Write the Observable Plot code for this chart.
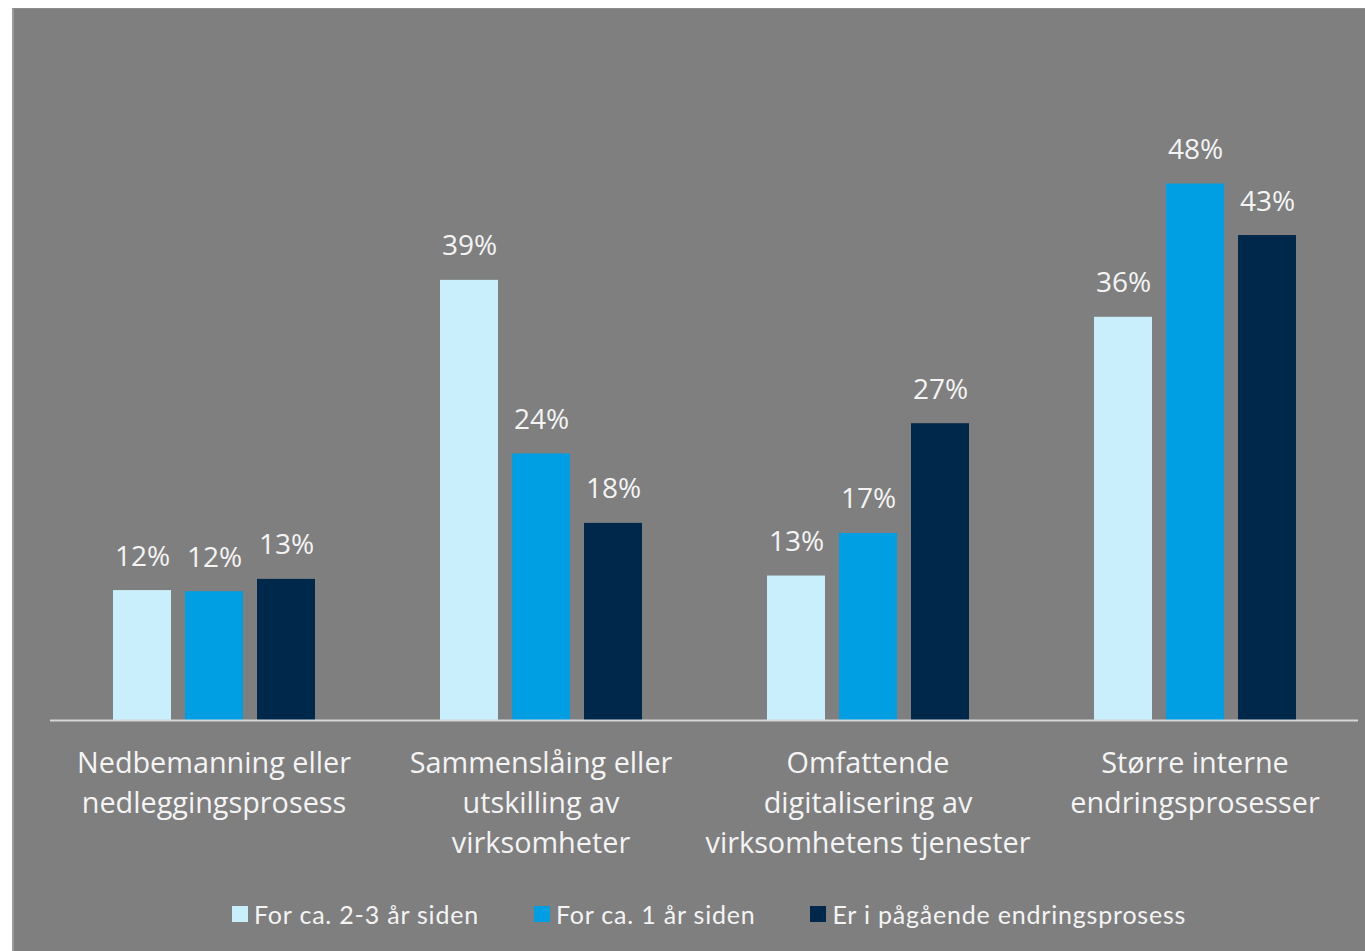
<!DOCTYPE html>
<html>
<head>
<meta charset="utf-8">
<script src="https://cdn.jsdelivr.net/npm/d3@7"></script>
<script src="https://cdn.jsdelivr.net/npm/@observablehq/plot@0.6"></script>
<style>
  html, body { margin: 0; padding: 0; background: #ffffff; }
  #frame {
    position: absolute; left: 12px; top: 8px; width: 1353px; height: 943px;
    background: #7f7f7f; border-left: 2px solid #9a9a9a; border-top: 1px solid #8c8c8c;
    box-sizing: border-box; overflow: hidden;
  }
  #chart svg { display: block; }
  #legend {
    display: flex; align-items: center; padding-left: 218px; margin-top: 20px;
    font-family: Lato, "Open Sans", sans-serif; font-size: 25px; letter-spacing: 0.8px; color: #f4f4f4;
  }
  .item { display: flex; align-items: center; margin-right: 55px; }
  .sw { width: 16px; height: 16px; margin-right: 6px; }
</style>
</head>
<body>
<div id="frame">
  <div id="chart"></div>
  <div id="legend"></div>
</div>
<script>
const categories = [
  "Nedbemanning eller\nnedleggingsprosess",
  "Sammenslåing eller\nutskilling av\nvirksomheter",
  "Omfattende\ndigitalisering av\nvirksomhetens tjenester",
  "Større interne\nendringsprosesser"
];
const series = ["For ca. 2-3 år siden", "For ca. 1 år siden", "Er i pågående endringsprosess"];
const colors = ["#c9effc", "#009fe3", "#00284a"];
const values23 = [11.6, 39.3, 12.9, 36.0];
const values1 = [11.5, 23.8, 16.7, 47.9];
const valuesNow = [12.6, 17.6, 26.5, 43.3];

const seriesValues = [values23, values1, valuesNow];
const data = [];
categories.forEach((c, i) => {
  series.forEach((s, j) => data.push({category: c, series: s, value: seriesValues[j][i]}));
});

const chart = Plot.plot({
  width: 1351, height: 870,
  marginLeft: 36, marginRight: 7, marginTop: 151, marginBottom: 159,
  style: {background: "transparent", color: "#f4f4f4", fontFamily: "'Open Sans', sans-serif"},
  fx: {domain: categories, padding: 0, label: null},
  x: {domain: series, paddingInner: 0.2, paddingOuter: 0.862, axis: null},
  y: {domain: [0, 50], axis: null},
  color: {domain: series, range: colors},
  marks: [
    Plot.barY(data, {fx: "category", x: "series", y: "value", fill: "series"}),
    Plot.ruleY([0], {stroke: "#d6d6d6", strokeWidth: 2}),
    Plot.text(data, {fx: "category", x: "series", y: "value", text: d => Math.round(d.value) + "%",
      dy: -34, lineAnchor: "middle", fill: "#f4f4f4", fontSize: 28}),
    Plot.axisFx({anchor: "bottom", tickSize: 0, tickPadding: 24, fontSize: 28.8, lineHeight: 1.39, label: null, fill: "#f4f4f4"})
  ]
});
document.getElementById("chart").appendChild(chart);

const legend = document.getElementById("legend");
series.forEach((s, j) => {
  const it = document.createElement("div");
  it.className = "item";
  const sw = document.createElement("div");
  sw.className = "sw";
  sw.style.background = colors[j];
  const t = document.createElement("span");
  t.textContent = s;
  it.appendChild(sw); it.appendChild(t);
  legend.appendChild(it);
});
</script>
</body>
</html>
